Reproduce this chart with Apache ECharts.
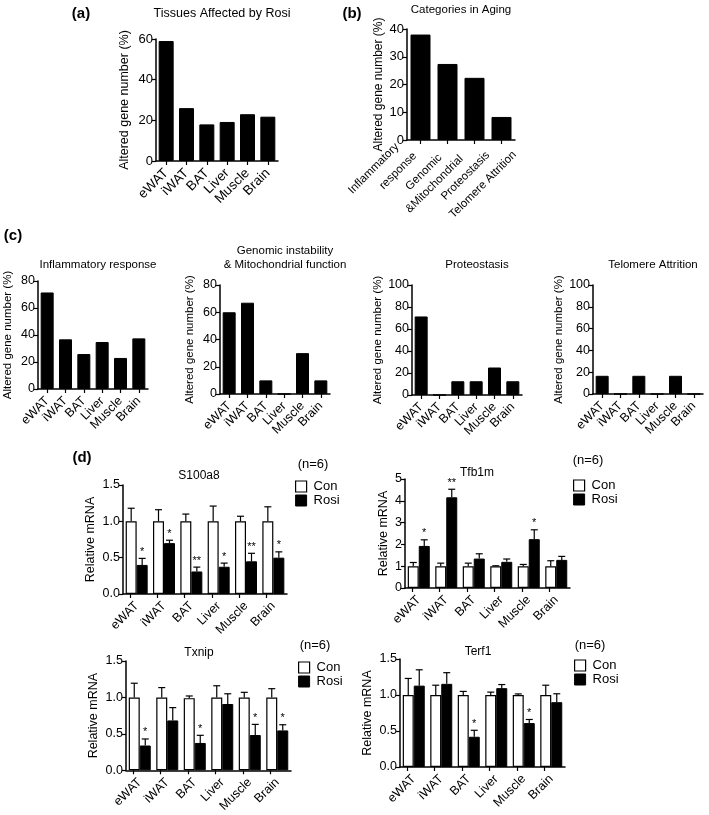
<!DOCTYPE html>
<html><head><meta charset="utf-8">
<script src="https://cdn.jsdelivr.net/npm/echarts@6/dist/echarts.min.js"></script>
<style>html,body{margin:0;padding:0;background:#fff}#c{width:709px;height:815px}</style>
</head><body><div id="c"></div>
<script>
// ---------- data ----------
const tissues = ['eWAT','iWAT','BAT','Liver','Muscle','Brain'];
const tissuesAffected = [59, 26, 18, 19.2, 23, 21.8];
const agingCategories = ['Inflammatory\nresponse','Genomic\n&Mitochondrial','Proteostasis','Telomere Attrition'];
const agingValues = [38, 27.4, 22.4, 8.3];
const inflammatoryValues = [71.5, 36.8, 25.9, 34.8, 23, 37.5];
const genomicValues = [60, 67, 10, 0, 30, 10];
const proteostasisValues = [71.4, 0, 12.5, 12.5, 25, 12.5];
const telomereValues = [16.7, 0, 16.7, 0, 16.7, 0];

const s100a8Con = [1, 1, 1, 1, 1, 1];
const s100a8ConErr = [0.18, 0.16, 0.10, 0.21, 0.07, 0.20];
const s100a8Rosi = [0.40, 0.70, 0.31, 0.375, 0.45, 0.50];
const s100a8RosiErr = [0.09, 0.04, 0.06, 0.05, 0.11, 0.08];
const s100a8Stars = ['*', '*', '**', '*', '**', '*'];

const tfb1mCon = [1, 1, 1, 1, 1, 1];
const tfb1mConErr = [0.17, 0.14, 0.14, 0.02, 0.08, 0.25];
const tfb1mRosi = [1.93, 4.16, 1.35, 1.2, 2.24, 1.29];
const tfb1mRosiErr = [0.28, 0.37, 0.22, 0.13, 0.43, 0.16];
const tfb1mStars = ['*', '**', '', '', '*', ''];

const txnipCon = [1, 1, 0.99, 1, 1, 1];
const txnipConErr = [0.195, 0.135, 0.03, 0.16, 0.07, 0.12];
const txnipRosi = [0.34, 0.684, 0.375, 0.91, 0.484, 0.547];
const txnipRosiErr = [0.09, 0.176, 0.105, 0.14, 0.146, 0.078];
const txnipStars = ['*', '', '*', '', '*', '*'];

const terf1Con = [1, 1, 1, 1, 1, 1];
const terf1ConErr = [0.23, 0.136, 0.05, 0.04, 0.015, 0.136];
const terf1Rosi = [1.13, 1.155, 0.42, 1.095, 0.61, 0.90];
const terf1RosiErr = [0.22, 0.155, 0.09, 0.05, 0.05, 0.117];
const terf1Stars = ['', '', '*', '', '*', ''];

// ---------- helpers ----------
const FONT = '"Liberation Sans", Arial, sans-serif';
const BLACK = '#000';

function catAxis(gi, data, labelSize, margin, padTop, extra) {
  return Object.assign({
    gridIndex: gi, type: 'category', data: data, boundaryGap: true,
    axisLine: { show: true, lineStyle: { color: BLACK, width: 1.5 } },
    axisTick: { show: true, alignWithLabel: true, length: 4, lineStyle: { color: BLACK, width: 1.2 } },
    axisLabel: { rotate: 45, interval: 0, color: BLACK, fontSize: labelSize, fontFamily: FONT, margin: margin,
      align: 'right', verticalAlign: 'middle', padding: [padTop, 0, 0, 0] }
  }, extra || {});
}
function valAxis(gi, max, interval, name, nameGap, nameSize, dec, tickSize) {
  return {
    gridIndex: gi, type: 'value', min: 0, max: max, interval: interval,
    name: name, nameLocation: 'middle', nameRotate: 90, nameGap: nameGap,
    nameTextStyle: { color: BLACK, fontSize: nameSize, fontFamily: FONT },
    axisLine: { show: true, lineStyle: { color: BLACK, width: 1.5 } },
    axisTick: { show: true, length: 4, lineStyle: { color: BLACK, width: 1.2 } },
    splitLine: { show: false },
    axisLabel: { color: BLACK, fontSize: tickSize || 12.5, fontFamily: FONT, margin: 3,
      formatter: function (v) { return dec ? v.toFixed(dec) : String(v); } }
  };
}
function barSeries(gi, data, width, isCon) {
  return {
    type: 'bar', name: isCon === undefined ? '' : (isCon ? 'Con' : 'Rosi'),
    xAxisIndex: gi, yAxisIndex: gi, data: data, barWidth: width, barGap: '0%',
    itemStyle: isCon ? { color: '#fff', borderColor: BLACK, borderWidth: 1.2 }
                     : { color: BLACK, borderColor: BLACK, borderWidth: 1 },
    emphasis: { disabled: true }, animation: false
  };
}
const BW = 11;
function errSeries(gi, vals, errs, side, stars) {
  return {
    type: 'custom', xAxisIndex: gi, yAxisIndex: gi, animation: false, z: 5,
    data: vals.map(function (v, i) { return [i, v, errs[i]]; }),
    renderItem: function (params, api) {
      const i = api.value(0), v = api.value(1), e = api.value(2);
      const base = api.coord([i, v]);
      const top = api.coord([i, v + e]);
      const x = base[0] + side * BW / 2;
      const ch = [
        { type: 'line', shape: { x1: x, y1: base[1], x2: x, y2: top[1] }, style: { stroke: BLACK, lineWidth: 1.2 } },
        { type: 'line', shape: { x1: x - 3.5, y1: top[1], x2: x + 3.5, y2: top[1] }, style: { stroke: BLACK, lineWidth: 1.2 } }
      ];
      const s = stars ? stars[params.dataIndex] : '';
      if (s) ch.push({ type: 'text', x: x, y: top[1] - 1,
        style: { text: s, fontSize: 11, fontFamily: FONT, fill: BLACK, align: 'center', verticalAlign: 'bottom', textAlign: 'center', textVerticalAlign: 'bottom' } });
      return { type: 'group', children: ch };
    }
  };
}
function txt(x, y, text, size, bold, lh) {
  return { type: 'text', x: x, y: y, silent: true,
    style: { text: text, fontSize: size, fontFamily: FONT, fontWeight: bold ? 'bold' : 'normal', fill: BLACK,
      align: 'center', verticalAlign: 'middle', textAlign: 'center', textVerticalAlign: 'middle', lineHeight: lh || size * 1.15 } };
}
function legendAt(left, top) {
  return {
    left: left, top: top, orient: 'vertical', itemWidth: 11, itemHeight: 11, itemGap: 1,
    selectedMode: false, icon: 'rect',
    textStyle: { color: BLACK, fontSize: 13, fontFamily: FONT, padding: [0, 0, 0, 2] },
    data: [
      { name: 'Con', itemStyle: { color: '#fff', borderColor: BLACK, borderWidth: 1.2 } },
      { name: 'Rosi', itemStyle: { color: BLACK, borderColor: BLACK, borderWidth: 1 } }
    ]
  };
}

// ---------- layout ----------
const grids = [
  { left: 156, top: 39, width: 122, height: 122 },   // a
  { left: 407, top: 29, width: 108, height: 111 },   // b
  { left: 38, top: 281, width: 110, height: 108 },   // c1
  { left: 220, top: 285, width: 110, height: 109 },  // c2
  { left: 412, top: 285, width: 110, height: 110 },  // c3
  { left: 593, top: 285, width: 110, height: 109 },  // c4
  { left: 123, top: 485, width: 164, height: 109 },  // d1
  { left: 405, top: 479, width: 165, height: 109 },  // d2
  { left: 126, top: 661, width: 165, height: 110 },  // d3
  { left: 400, top: 659, width: 165, height: 108 }   // d4
];

// placement of each line of the rotated labels in panel (b):
// [offset of line end along the text direction, offset of line centre across it]
const B_SIZE = 11.5;
const agingLinePlace = [
  [[-20, -13], [-14, 6]],
  [[-16.5, 6], [-2.4, 22]],
  [[0, 19]],
  [[0, 18.5]]
];
const agingRich = {};
const agingAxisData = agingCategories.map(function (c, i) {
  const pl = agingLinePlace[i];
  const s = pl.length > 1 ? pl[1][1] - pl[0][1] : 17;
  const mid = pl.length > 1 ? (pl[0][1] + pl[1][1]) / 2 : pl[0][1];
  pl.forEach(function (p, k) {
    agingRich['b' + i + k] = { fontSize: B_SIZE, fontFamily: FONT, color: BLACK, lineHeight: s,
      align: 'right', padding: [0, Math.max(-p[0], 0), 0, 0] };
  });
  return { value: c, textStyle: { align: 'right', verticalAlign: 'middle',
    padding: [Math.max(2 * mid, 0), 0, Math.max(-2 * mid, 0), 0] } };
});

const xAxes = [
  catAxis(0, tissues, 13.5, 10, 3),
  catAxis(1, agingAxisData, B_SIZE, 0, 0, { axisLabel: { rotate: 45, interval: 0, color: BLACK, fontSize: B_SIZE, fontFamily: FONT, margin: 0,
    rich: agingRich,
    formatter: function (value, index) {
      return String(value).split('\n').map(function (s, k) { return '{b' + index + k + '|' + s + '}'; }).join('\n');
    } } }),
  catAxis(2, tissues, 12.5, 10, 8), catAxis(3, tissues, 12.5, 10, 8), catAxis(4, tissues, 12.5, 10, 8), catAxis(5, tissues, 12.5, 10, 8)
];
for (let g = 6; g <= 9; g++) xAxes.push(catAxis(g, tissues, 12.5, 10, 3, { axisTick: { show: false } }));
const sub = []; for (let k = 0; k < 12; k++) sub.push(String(k));
for (let g = 6; g <= 9; g++) xAxes.push({
  gridIndex: g, type: 'category', data: sub, position: 'bottom', boundaryGap: true,
  axisLine: { show: false }, axisLabel: { show: false }, splitLine: { show: false },
  axisTick: { show: true, alignWithLabel: true, length: 4, lineStyle: { color: BLACK, width: 1.2 } }
});

const GN = 'Altered gene number (%)';
const yAxes = [
  valAxis(0, 60, 20, GN, 25, 12.5, 0, 13),
  valAxis(1, 40, 10, GN, 22, 12, 0, 13),
  valAxis(2, 80, 20, GN, 24, 11.5),
  valAxis(3, 80, 20, GN, 24, 11.5),
  valAxis(4, 100, 20, GN, 28, 11.5),
  valAxis(5, 100, 20, GN, 28, 11.5),
  valAxis(6, 1.5, 0.5, 'Relative mRNA', 26, 12.5, 1),
  valAxis(7, 5, 1, 'Relative mRNA', 15, 12.5, 0),
  valAxis(8, 1.5, 0.5, 'Relative mRNA', 26, 12.5, 1),
  valAxis(9, 1.5, 0.5, 'Relative mRNA', 26, 12.5, 1)
];

const series = [
  barSeries(0, tissuesAffected, 15),
  barSeries(1, agingValues, 20),
  barSeries(2, inflammatoryValues, 13),
  barSeries(3, genomicValues, 13),
  barSeries(4, proteostasisValues, 13),
  barSeries(5, telomereValues, 13)
];
const dSets = [
  [s100a8Con, s100a8ConErr, s100a8Rosi, s100a8RosiErr, s100a8Stars],
  [tfb1mCon, tfb1mConErr, tfb1mRosi, tfb1mRosiErr, tfb1mStars],
  [txnipCon, txnipConErr, txnipRosi, txnipRosiErr, txnipStars],
  [terf1Con, terf1ConErr, terf1Rosi, terf1RosiErr, terf1Stars]
];
dSets.forEach(function (d, k) {
  const g = 6 + k;
  series.push(barSeries(g, d[0], BW, true));
  series.push(barSeries(g, d[2], BW, false));
  series.push(errSeries(g, d[0], d[1], -1, null));
  series.push(errSeries(g, d[2], d[3], 1, d[4]));
});

const graphics = [
  txt(81, 14, '(a)', 15, true), txt(352, 14, '(b)', 15, true),
  txt(13, 236, '(c)', 15, true), txt(82, 458, '(d)', 15, true),
  txt(222, 14, 'Tissues Affected by Rosi', 12.5),
  txt(461, 10, 'Categories in Aging', 11.5),
  txt(98, 265, 'Inflammatory response', 11.5),
  txt(285, 258, 'Genomic instability\n& Mitochondrial function', 11.5, false, 14),
  txt(477, 265, 'Proteostasis', 11.5),
  txt(653, 265, 'Telomere Attrition', 11.5),
  txt(199, 476, 'S100a8', 12), txt(313, 464, '(n=6)', 13),
  txt(477, 473, 'Tfb1m', 12), txt(588, 460, '(n=6)', 13),
  txt(199, 653, 'Txnip', 12), txt(315, 645, '(n=6)', 13),
  txt(478, 652, 'Terf1', 12), txt(590, 645, '(n=6)', 13)
];

const chart = echarts.init(document.getElementById('c'), null, { renderer: 'canvas' });
chart.setOption({
  backgroundColor: '#fff', animation: false,
  grid: grids, xAxis: xAxes, yAxis: yAxes, series: series,
  legend: [legendAt(290, 475), legendAt(568, 474), legendAt(293, 656), legendAt(569, 654)],
  graphic: graphics,
  tooltip: { show: false }
});
</script></body></html>
